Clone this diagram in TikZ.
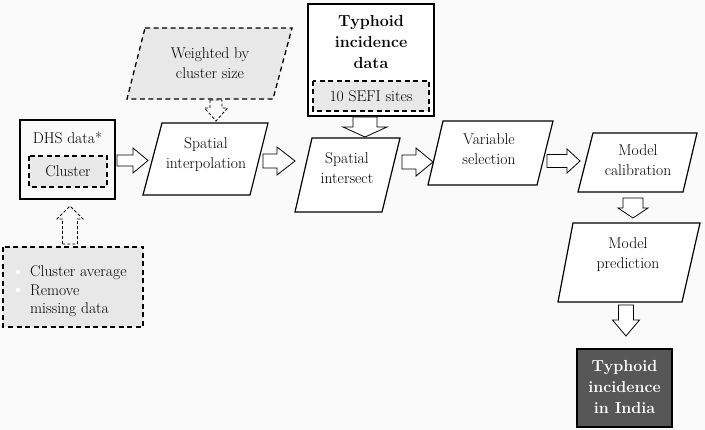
\documentclass[tikz,border=0pt]{standalone}
\definecolor{bg}{HTML}{FAFAFA}
\definecolor{boxgray}{HTML}{E8E8E8}
\definecolor{outgray}{HTML}{575757}
\newcommand\harr[7][]{% opts, x1, x2, y, shaft half, head half, head length
  \draw[arrline,#1] (#2,{#4-#5}) -- ({#3-#7},{#4-#5}) -- ({#3-#7},{#4-#6}) -- (#3,#4)
     -- ({#3-#7},{#4+#6}) -- ({#3-#7},{#4+#5}) -- (#2,{#4+#5}) -- cycle;}
\newcommand\varr[7][]{% opts, x, y1, y2, shaft half, head half, signed head length
  \draw[arrline,#1] ({#2-#5},#3) -- ({#2-#5},{#4-#7}) -- ({#2-#6},{#4-#7}) -- (#2,#4)
     -- ({#2+#6},{#4-#7}) -- ({#2+#5},{#4-#7}) -- ({#2+#5},#3) -- cycle;}
\begin{document}
\begin{tikzpicture}[x=1pt,y=-1pt,
  solidbox/.style={draw, line width=1.4pt},
  dashbox/.style={draw, dash pattern=on 5pt off 3.5pt, line width=1.3pt, fill=boxgray},
  parabox/.style={draw, line width=1.2pt, fill=white},
  txt/.style={align=center, font=\fontsize{15.6}{20}\selectfont, inner sep=0pt},
  btxt/.style={align=center, font=\fontsize{16}{21}\selectfont\bfseries, inner sep=0pt},
  arrline/.style={draw, line width=0.8pt, fill=white, line join=miter},
  darr/.style={dash pattern=on 3pt off 2pt, fill=bg}]
\fill[bg] (0,0) rectangle (705,430);
\useasboundingbox (0,0) rectangle (705,430);

% DHS data
\draw[solidbox, fill=bg] (20,120) rectangle (115,199);
\node[txt] (dhs) at (67.5,138) {DHS data*};
\draw[dashbox] (29,156) rectangle (107,187);
\node[txt] (cluster) at (68,171.5) {Cluster};

% bottom-left dashed box
\draw[dashbox] (3,247) rectangle (143,327);
\node[txt, align=left, anchor=west, font=\fontsize{15.6}{18.5}\selectfont] (prep) at (30,291.5) {Cluster average\\Remove\\missing data};
\fill[white] (18,272) circle (2.2);
\fill[white] (18,290) circle (2.2);

% Weighted by cluster size
\draw[dashbox] (145,28) -- (292,28) -- (273,99) -- (127,99) -- cycle;
\node[txt] (weight) at (210,63.5) {Weighted by\\cluster size};

% Spatial interpolation
\draw[parabox] (162,123) -- (268,123) -- (250,195) -- (143,195) -- cycle;
\node[txt] (interp) at (206,155) {Spatial\\interpolation};

% Typhoid incidence data
\draw[solidbox, fill=white] (308,4) rectangle (434,116);
\node[btxt] (typh) at (371,42) {Typhoid\\incidence\\data};
\draw[dashbox] (313,81) rectangle (429,111);
\node[txt] (sefi) at (371,96) {10 SEFI sites};

% Spatial intersect
\draw[parabox] (312,138) -- (400,138) -- (382,212) -- (295,212) -- cycle;
\node[txt] (inter) at (347,168) {Spatial\\intersect};

% Variable selection
\draw[parabox] (443,121) -- (553,121) -- (537,185) -- (428,185) -- cycle;
\node[txt] (var) at (489,149) {Variable\\selection};

% Model calibration
\draw[parabox] (593,133) -- (697,133) -- (683,192) -- (578,192) -- cycle;
\node[txt] (calib) at (638,160) {Model\\calibration};

% Model prediction
\draw[parabox] (573,223) -- (700,223) -- (682,302) -- (558,302) -- cycle;
\node[txt] (pred) at (628,255) {Model\\prediction};

% Output
\draw[solidbox, fill=outgray] (577,349) rectangle (672,427);
\node[btxt, text=white] (out) at (624.5,387) {Typhoid\\incidence\\in India};

% block arrows
\harr{117}{148}{160.5}{5.5}{12.5}{15}
\harr{263}{295}{161}{7}{14}{18}
\harr{402}{433}{162}{7}{14}{17}
\harr{547}{580}{161}{6.5}{12}{13}
\varr{365}{117}{137}{12}{22}{10}
\varr{633}{198}{218}{10}{15}{10}
\varr{626}{305}{336}{7.5}{13.5}{16}
\varr[darr]{70}{244}{206}{7.5}{13}{-13}
\varr[darr]{216}{100}{121}{6}{11.5}{13}
\end{tikzpicture}
\end{document}
